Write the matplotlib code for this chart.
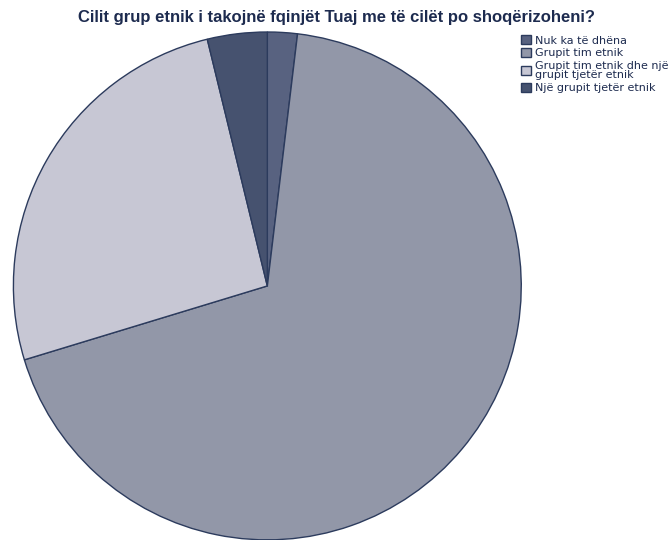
import matplotlib.pyplot as plt

# Share of responses (%)
labels = ['Nuk ka të dhëna', 'Grupit tim etnik',
          'Grupit tim etnik dhe një\ngrupit tjetër etnik', 'Një grupit tjetër etnik']
values = [1.9, 68.4, 25.9, 3.8]
colors = ['#586280', '#9297a8', '#c7c7d4', '#46526f']

fig = plt.figure(figsize=(6.7, 5.4), dpi=100)
ax = fig.add_axes([0.020, 0.0, 0.758, 0.941])

wedges, _ = ax.pie(values, colors=colors, startangle=90, counterclock=False,
                   wedgeprops=dict(edgecolor='#2c3b5d', linewidth=1.0))
ax.set_xlim(-1, 1)
ax.set_ylim(-1, 1)
ax.set_aspect('equal')
ax.axis('off')

fig.text(0.502, 0.968, 'Cilit grup etnik i takojnë fqinjët Tuaj me të cilët po shoqërizoheni?',
         ha='center', va='center', fontsize=12.0, fontweight='bold',
         family='Liberation Sans', color='#1d2b4f')

leg = fig.legend(wedges, labels, loc='upper left', bbox_to_anchor=(0.778, 0.935),
                 frameon=False, fontsize=8, handlelength=0.9, handleheight=0.9,
                 handletextpad=0.35, labelspacing=0.22, borderaxespad=0, borderpad=0)
for t in leg.get_texts():
    t.set_color('#1d2b4f')
    t.set_linespacing(0.95)

plt.savefig('out.png', dpi=100)
